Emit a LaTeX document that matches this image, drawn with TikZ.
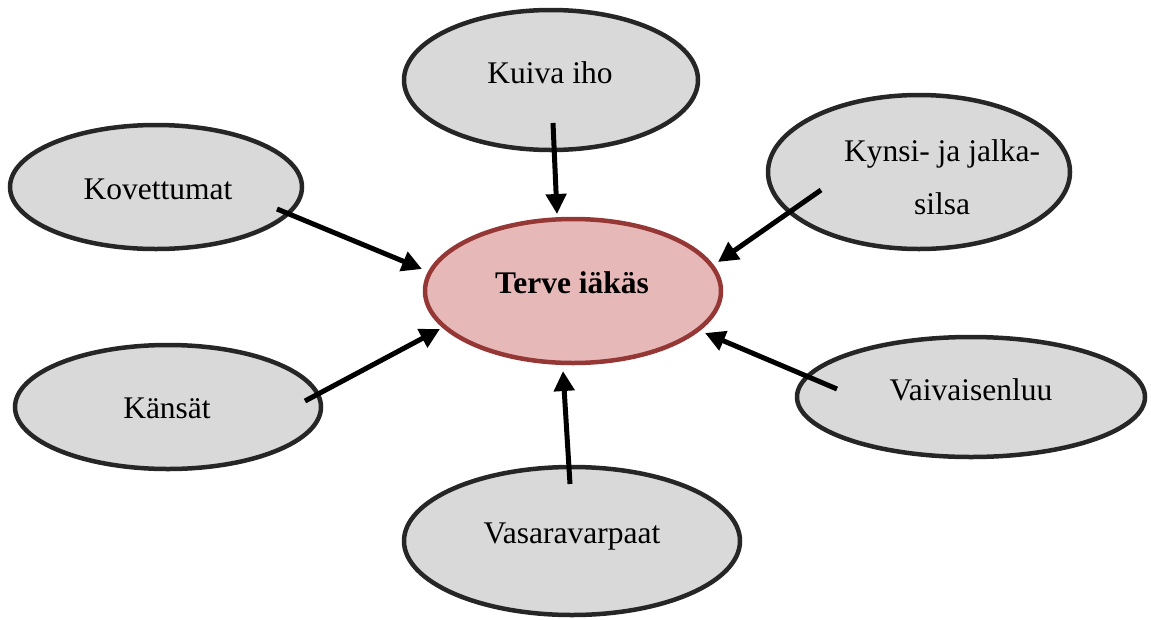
\documentclass[tikz,border=0pt]{standalone}
\usepackage{fontspec}
\setmainfont{Liberation Serif}
\usetikzlibrary{shapes.geometric,arrows.meta}
\definecolor{grayfill}{HTML}{D9D9D9}
\definecolor{grayline}{HTML}{262626}
\definecolor{redfill}{HTML}{E6B9B8}
\definecolor{redline}{HTML}{953735}
\tikzset{
  bubble/.style={ellipse, draw=grayline, fill=grayfill, line width=4.5pt, inner sep=0pt},
  hub/.style={ellipse, draw=redline, fill=redfill, line width=4.5pt, inner sep=0pt},
  lbl/.style={font=\fontsize{31.5}{53}\selectfont, inner sep=0pt, anchor=base},
  conn/.style={line width=5pt, -{Triangle[length=20pt,width=20pt]}}
}
\begin{document}
\begin{tikzpicture}[x=1pt,y=-1pt]
\useasboundingbox (0,0) rectangle (1151,619);
% ellipses
\node[hub, minimum width=296pt, minimum height=144pt] (center) at (573,291) {};
\node[bubble, minimum width=294pt, minimum height=140pt] (kuiva) at (551,80) {};
\node[bubble, minimum width=292pt, minimum height=124pt] (kov) at (156,187) {};
\node[bubble, minimum width=302pt, minimum height=154pt] (kynsi) at (919,172) {};
\node[bubble, minimum width=306pt, minimum height=124pt] (kans) at (168,407) {};
\node[bubble, minimum width=348pt, minimum height=120pt] (vaiv) at (971,397) {};
\node[bubble, minimum width=336pt, minimum height=148pt] (vasara) at (572,541) {};
% labels
\node[lbl, font=\fontsize{31.5}{53}\selectfont\bfseries] (tcenter) at (572,293) {Terve iäkäs};
\node[lbl] (tkuiva) at (550,83) {Kuiva iho};
\node[lbl] (tkov) at (158,199) {Kovettumat};
\node[lbl, anchor=center, align=center] (tkynsi) at (942,177) {Kynsi- ja jalka-\\silsa};
\node[lbl] (tkans) at (167,418) {Känsät};
\node[lbl] (tvaiv) at (971,400) {Vaivaisenluu};
\node[lbl] (tvasara) at (572,543) {Vasaravarpaat};
% connector ends
\coordinate (s1) at (553,123); \coordinate (e1) at (557,214);
\coordinate (s2) at (277,209); \coordinate (e2) at (422,269);
\coordinate (s3) at (821,190); \coordinate (e3) at (718,262);
\coordinate (s4) at (305,401); \coordinate (e4) at (440,329);
\coordinate (s5) at (837,389); \coordinate (e5) at (705,333);
\coordinate (s6) at (570,484); \coordinate (e6) at (563,371);
\draw[conn] (s1) -- (e1);
\draw[conn] (s2) -- (e2);
\draw[conn] (s3) -- (e3);
\draw[conn] (s4) -- (e4);
\draw[conn] (s5) -- (e5);
\draw[conn] (s6) -- (e6);
\end{tikzpicture}
\end{document}
